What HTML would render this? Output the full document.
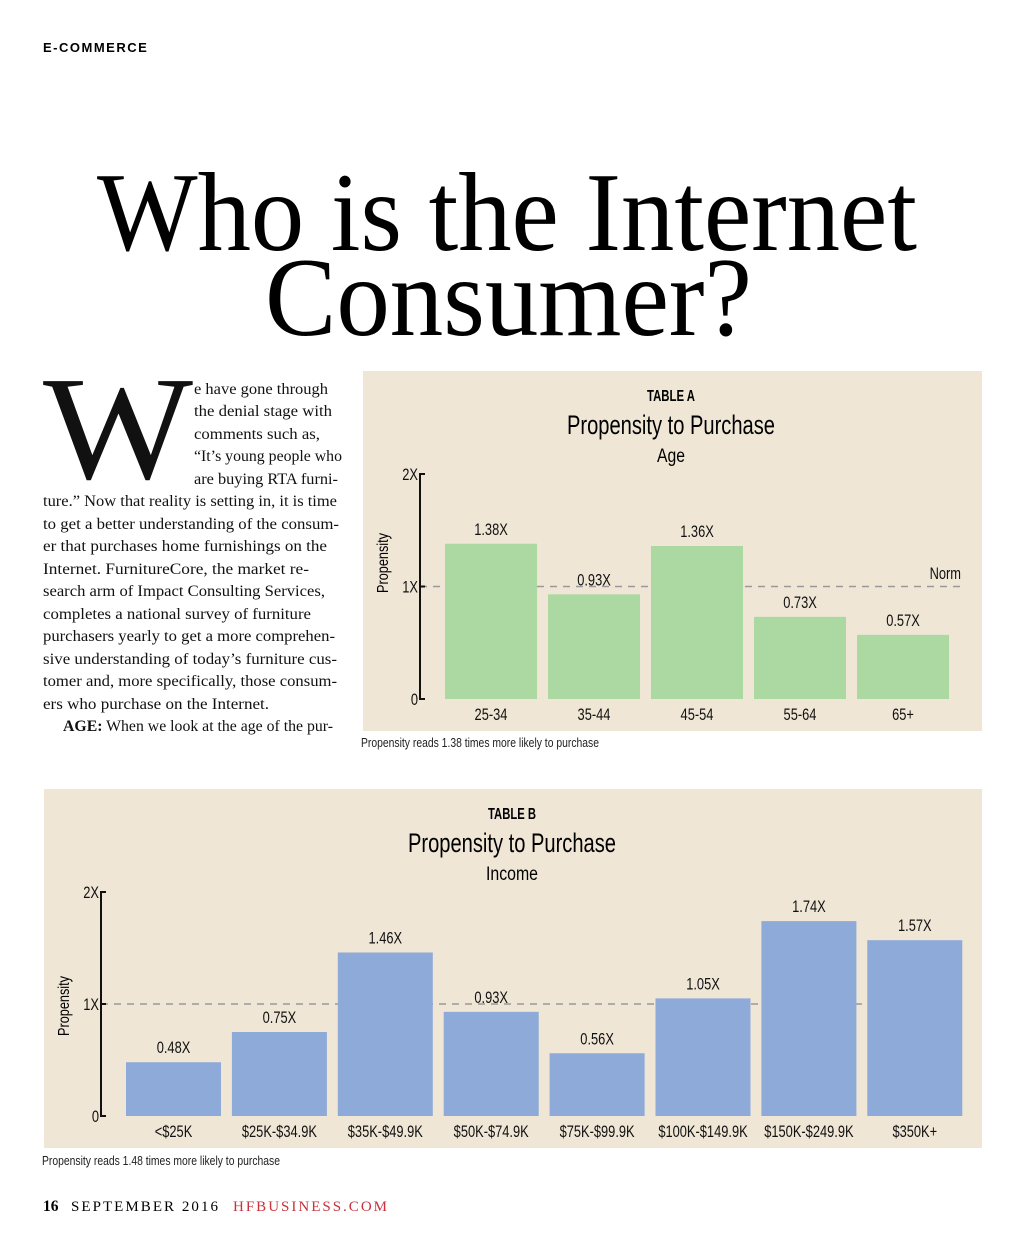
<!DOCTYPE html>
<html><head><meta charset="utf-8"><style>
html,body{margin:0;padding:0;background:#fff}
svg{display:block}
.n{font-family:"Liberation Sans",sans-serif}
.s{font-family:"Liberation Serif",serif}
</style></head><body>
<svg id="page" width="1024" height="1255" viewBox="0 0 1024 1255" xmlns="http://www.w3.org/2000/svg">
<text x="43" y="52" font-family="Liberation Sans, sans-serif" font-weight="bold" font-size="13" letter-spacing="1.5">E-COMMERCE</text>
<text class="s" x="97" y="250" font-size="112" textLength="820" lengthAdjust="spacingAndGlyphs">Who is the Internet</text>
<text class="s" x="265" y="335" font-size="112" textLength="487" lengthAdjust="spacingAndGlyphs">Consumer?</text>

<g class="s" font-size="15.5" fill="#111">
<text x="43" y="478" font-size="148" textLength="150" lengthAdjust="spacingAndGlyphs">W</text>
<text x="194" y="394" textLength="134" lengthAdjust="spacingAndGlyphs">e have gone through</text>
<text x="194" y="416" textLength="138" lengthAdjust="spacingAndGlyphs">the denial stage with</text>
<text x="194" y="439" textLength="126" lengthAdjust="spacingAndGlyphs">comments such as,</text>
<text x="194" y="461" textLength="148" lengthAdjust="spacingAndGlyphs">“It’s young people who</text>
<text x="194" y="484" textLength="144" lengthAdjust="spacingAndGlyphs">are buying RTA furni-</text>
<text x="43" y="506" textLength="294" lengthAdjust="spacingAndGlyphs">ture.”  Now that reality is setting in, it is time</text>
<text x="43" y="529" textLength="296" lengthAdjust="spacingAndGlyphs">to get a better understanding of the consum-</text>
<text x="43" y="551" textLength="284" lengthAdjust="spacingAndGlyphs">er that purchases home furnishings on the</text>
<text x="43" y="574" textLength="266" lengthAdjust="spacingAndGlyphs">Internet. FurnitureCore, the market re-</text>
<text x="43" y="596" textLength="282" lengthAdjust="spacingAndGlyphs">search arm of Impact Consulting Services,</text>
<text x="43" y="619" textLength="268" lengthAdjust="spacingAndGlyphs">completes a national survey of furniture</text>
<text x="43" y="641" textLength="292" lengthAdjust="spacingAndGlyphs">purchasers yearly to get a more comprehen-</text>
<text x="43" y="664" textLength="294" lengthAdjust="spacingAndGlyphs">sive understanding of today’s furniture cus-</text>
<text x="43" y="686" textLength="294" lengthAdjust="spacingAndGlyphs">tomer and, more specifically, those consum-</text>
<text x="43" y="709" textLength="226" lengthAdjust="spacingAndGlyphs">ers who purchase on the Internet.</text>
<text x="63" y="731" textLength="270" lengthAdjust="spacingAndGlyphs"><tspan font-weight="bold">AGE:</tspan>  When we look at the age of the pur-</text>
</g>

<g id="chartA">
<rect x="363" y="371" width="619" height="360" fill="#efe6d6"/>
<text class="n" x="647" y="401" font-size="16" font-weight="bold" textLength="48" lengthAdjust="spacingAndGlyphs">TABLE A</text>
<text class="n" x="567" y="434" font-size="27" textLength="208" lengthAdjust="spacingAndGlyphs">Propensity to Purchase</text>
<text class="n" x="657" y="462" font-size="19" textLength="28" lengthAdjust="spacingAndGlyphs">Age</text>
<text class="n" x="388" y="563" font-size="16" text-anchor="middle" textLength="60" lengthAdjust="spacingAndGlyphs" transform="rotate(-90 388 563)">Propensity</text>
<text class="n" x="361" y="747" font-size="12.5" fill="#222" textLength="238" lengthAdjust="spacingAndGlyphs">Propensity reads 1.38 times more likely to purchase</text>
</g>

<g id="chartB">
<rect x="44" y="789" width="938" height="359" fill="#efe6d6"/>
<text class="n" x="488" y="819" font-size="16" font-weight="bold" textLength="48" lengthAdjust="spacingAndGlyphs">TABLE B</text>
<text class="n" x="408" y="852" font-size="27" textLength="208" lengthAdjust="spacingAndGlyphs">Propensity to Purchase</text>
<text class="n" x="486" y="880" font-size="19" textLength="52" lengthAdjust="spacingAndGlyphs">Income</text>
<text class="n" x="69" y="1006" font-size="16" text-anchor="middle" textLength="60" lengthAdjust="spacingAndGlyphs" transform="rotate(-90 69 1006)">Propensity</text>
<text class="n" x="42" y="1165" font-size="12.5" fill="#222" textLength="238" lengthAdjust="spacingAndGlyphs">Propensity reads 1.48 times more likely to purchase</text>
</g>

<text class="s" x="43" y="1211" font-size="15.5" font-weight="bold">16</text>
<text class="s" x="71" y="1211" font-size="15" textLength="147" lengthAdjust="spacing">SEPTEMBER 2016</text>
<text class="s" x="233" y="1211" font-size="15" fill="#c8323a" textLength="154" lengthAdjust="spacing">HFBUSINESS.COM</text>
</svg>
<script>
const ageCategories = ["25-34","35-44","45-54","55-64","65+"];
const ageValues = [1.38,0.93,1.36,0.73,0.57];
const ageLabels = ["1.38X","0.93X","1.36X","0.73X","0.57X"];
const incomeCategories = ["<$25K","$25K-$34.9K","$35K-$49.9K","$50K-$74.9K","$75K-$99.9K","$100K-$149.9K","$150K-$249.9K","$350K+"];
const incomeValues = [0.48,0.75,1.46,0.93,0.56,1.05,1.74,1.57];
const incomeLabels = ["0.48X","0.75X","1.46X","0.93X","0.56X","1.05X","1.74X","1.57X"];
const yTicks = [0,1,2];
const yTickLabels = ["0","1X","2X"];

const NS = "http://www.w3.org/2000/svg";
function mk(parent, tag, attrs, text){
  const e = document.createElementNS(NS, tag);
  for (const k in attrs) e.setAttribute(k, attrs[k]);
  if (text !== undefined) e.textContent = text;
  parent.appendChild(e);
  return e;
}
function ctext(parent, x, y, anchor, str){
  return mk(parent, "text", {x: 0, y: 0, "font-size": 16.5, "text-anchor": anchor, class: "n", fill: "#111",
    transform: "translate(" + x + "," + y + ") scale(0.78,1)"}, str);
}
function drawChart(g, cfg, cats, vals, labels, color){
  const y = v => cfg.y0 - (cfg.y0 - cfg.y2) * v / 2;
  const x = i => cfg.x0 + i * cfg.pitch;
  const norm = mk(g, "line", {x1: cfg.axisX, x2: cfg.xEnd, y1: y(1), y2: y(1), stroke: "#999", "stroke-width": 1.5, "stroke-dasharray": "7 6"});
  
  
  cats.forEach((c, i) => {
    const r = mk(g, "rect", {x: x(i), y: y(vals[i]), width: cfg.bw, height: cfg.y0 - y(vals[i]), fill: color});
    
    
    const vl = ctext(g, x(i) + cfg.bw / 2, y(vals[i]) - 9, "middle", labels[i]);
    
    
    const cl = ctext(g, x(i) + cfg.bw / 2, cfg.y0 + 21, "middle", c);
    
    
  });
  const ax = mk(g, "line", {x1: cfg.axisX, x2: cfg.axisX, y1: y(2), y2: y(0), stroke: "#111", "stroke-width": 2});
  
  
  yTicks.forEach((t, i) => {
    const tk = mk(g, "line", {x1: cfg.axisX - 1, x2: cfg.axisX + 5, y1: y(t), y2: y(t), stroke: "#111", "stroke-width": 2});
    
    
    const tl = ctext(g, cfg.axisX - 2, y(t) + 6, "end", yTickLabels[i]);
    
    
  });
}
const gA = document.getElementById("chartA");
drawChart(gA, {y0: 699, y2: 474, x0: 445, pitch: 103, bw: 92, axisX: 420, xEnd: 962}, ageCategories, ageValues, ageLabels, "#acd8a1");
const normA = ctext(gA, 961, 579, "end", "Norm");


const gB = document.getElementById("chartB");
drawChart(gB, {y0: 1116, y2: 892, x0: 126, pitch: 105.9, bw: 95, axisX: 101, xEnd: 962}, incomeCategories, incomeValues, incomeLabels, "#8eaad8");
</script>
</body></html>
